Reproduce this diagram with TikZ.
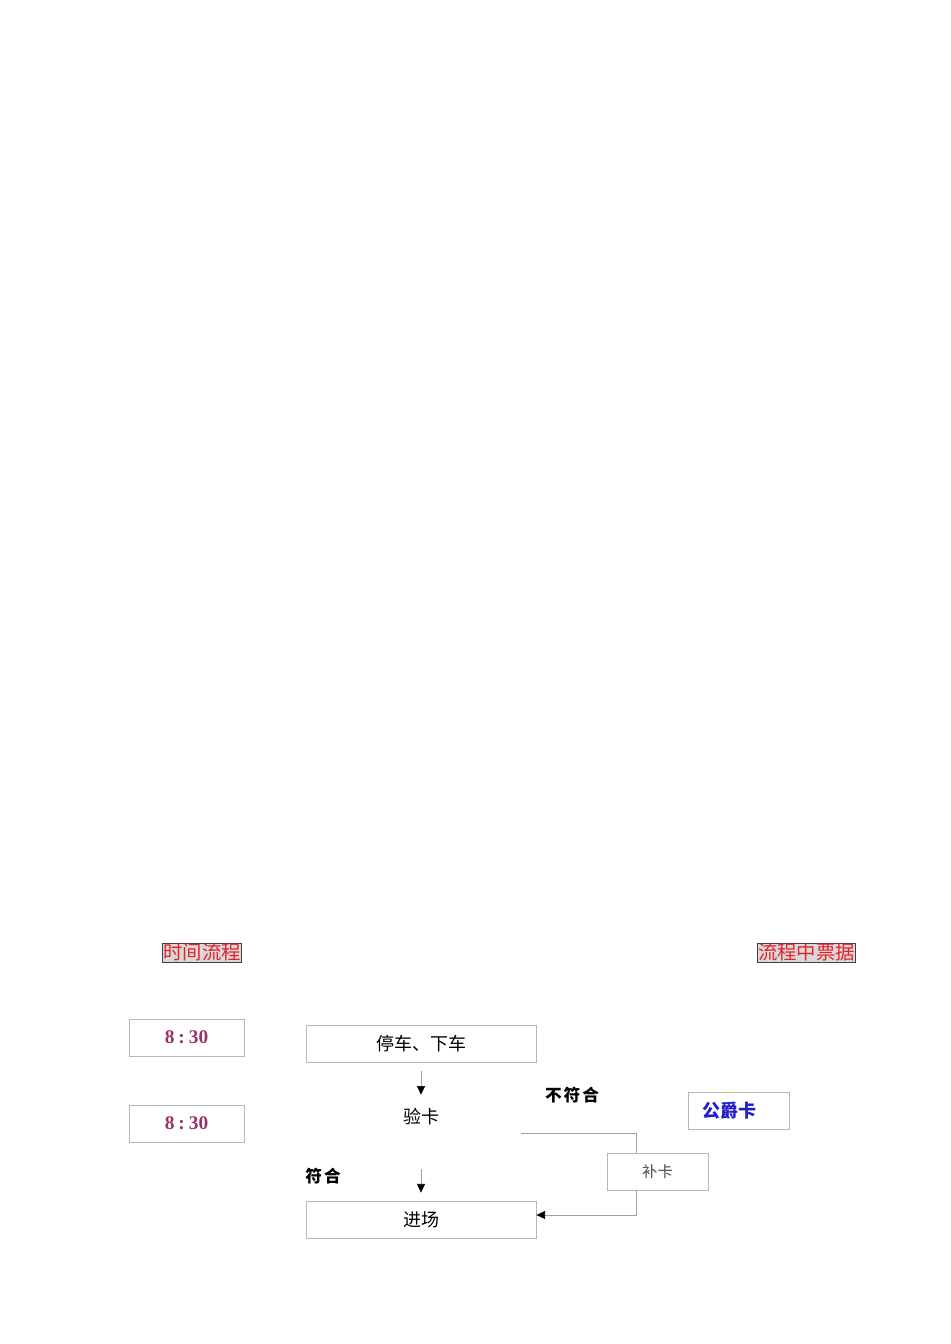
\documentclass[tikz,border=0pt]{standalone}
\usepackage{fontspec}
\setmainfont{Liberation Serif}
\newfontfamily\cjk{Noto Sans CJK SC}
\usetikzlibrary{arrows.meta}
\definecolor{boxgray}{HTML}{B8B8B8}
\definecolor{linegray}{HTML}{A0A0A0}
\definecolor{hdrfill}{HTML}{D9D9D9}
\definecolor{hdrborder}{HTML}{404040}
\definecolor{hdrred}{HTML}{E8202A}
\definecolor{timecol}{HTML}{993366}
\definecolor{jblue}{HTML}{1F1FCC}
\tikzset{
  hdr/.style={draw=hdrborder, fill=hdrfill, text=hdrred, inner sep=0.5pt, font=\cjk\fontsize{14.5pt}{15pt}\selectfont},
  timebox/.style={draw=boxgray, line width=0.6pt, minimum width=115*0.75pt, minimum height=37*0.75pt, text=timecol, font=\bfseries\fontsize{14.5pt}{15pt}\selectfont},
  flowbox/.style={draw=boxgray, line width=0.6pt, minimum width=230*0.75pt, minimum height=37*0.75pt, font=\cjk\fontsize{13.5pt}{14pt}\selectfont},
  sidebox/.style={draw=boxgray, line width=0.6pt, minimum width=101*0.75pt, minimum height=37*0.75pt},
  plain/.style={inner sep=0pt, font=\cjk\fontsize{13.5pt}{14pt}\selectfont},
  lbl/.style={inner sep=0pt, font=\cjk\bfseries\fontsize{12.5pt}{13pt}\selectfont},
  conn/.style={draw=linegray, line width=0.5pt},
  arr/.style={conn, -{Triangle[width=6pt,length=6.5pt,fill=black,color=black]}},
}
\begin{document}
\begin{tikzpicture}[x=0.75pt, y=-0.75pt]
\useasboundingbox[fill=white] (0,0) rectangle (950,1344);

\node[hdr] (h1) at (202,952.5) {时间流程};
\node[hdr] (h2) at (806.5,952.5) {流程中票据};

\node[timebox] (t1) at (186.5,1037.5) {8\kern3pt:\kern3pt30};
\node[timebox] (t2) at (186.5,1123.5) {8\kern3pt:\kern3pt30};

\node[flowbox] (stop) at (421,1044) {停车、下车};
\node[plain, minimum height=44*0.75pt] (check) at (421,1117) {验卡};
\node[flowbox] (enter) at (421,1219.5) {进场};

\node[sidebox, text=black!70, font=\cjk\fontsize{11.5pt}{12pt}\selectfont] (fix) at (657.5,1171.5) {补卡};
\node[sidebox, text=jblue, font=\cjk\bfseries\fontsize{13.5pt}{14pt}\selectfont] (duke) at (739,1111) {\hspace*{-14pt}公爵卡};

\node[lbl] (no) at (572,1095) {不\kern1.5pt 符\kern1.5pt 合};
\node[lbl] (yes) at (323,1176) {符\kern1.5pt 合};

\coordinate (cr) at (521,1133);
\coordinate (ct) at (636,1133);
\coordinate (cb) at (636,1215);

\draw[arr] ([yshift=-6pt]stop.south) -- (check.north);
\draw[arr] ([yshift=-22.5pt]check.south) -- ([yshift=6pt]enter.north);
\draw[conn] (cr) -- (ct) -- (ct |- fix.north);
\draw[arr] (cb |- fix.south) -- (cb) -- (enter.east |- cb);
\end{tikzpicture}
\end{document}
